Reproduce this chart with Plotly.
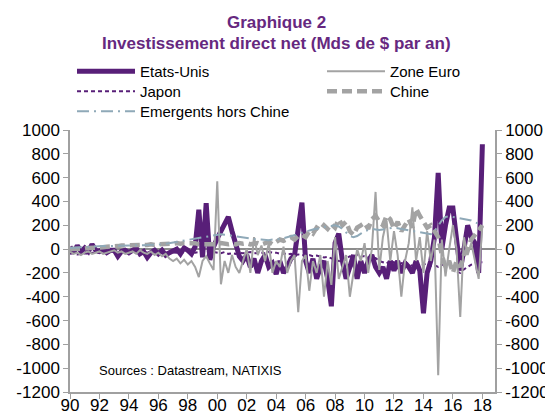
import plotly.graph_objs as go
import pandas as pd

# Quarterly data, 1990Q1 .. 2018Q1 (Mds de $ par an)
etats_unis = [20, -30, 30, -20, 10, -20, 40, -10, -20, 0, -30, -10, -10, -60, -20, -10,
              -30, -10, 10, -40, -20, -70, -30, -10, -40, -10, -50, -30, -20, 0, -40, 10,
              -10, -40, 20, 330, -70, 385, -90, 20, 90, 150, 200, 270, 150, 30, -60, -100,
              -50, -150, -80, -200, -100, -50, -150, -120, -210, -100, -200, -150, -80, -50, 150, 390,
              -100, -200, -80, -250, -150, -100, -250, -480, 50, 130, -100, -250, -150, -50, -250, -100,
              -200, -100, -50, -150, -200, -150, -250, -100, -180, -100, -200, -120, -150, -200, -100, -180,
              -540, -200, -100, 100, 640, 0, 200, 345, 345, 100, -180, 0, 200, 100, 50, -200,
              880]

zone_euro = [-20, -40, -30, -50, -30, -20, -40, -30, -20, -40, -30, -20, -10, -30, -20, -40,
             -30, -20, -40, -10, -30, -40, -20, -50, -30, -60, -40, -80, -100, -80, -120, -90,
             -130, -100, -150, -235, -100, -60, -120, -175, 570, -295, -100, -200, -50, -150, -200, -100,
             0, -200, 100, -50, 30, -100, 50, -200, -100, -150, 20, -200, -100, -50, -530, -100,
             -50, -350, -100, -200, -50, -400, -100, -300, 100, -250, -150, -50, -400, -200, 0, -100,
             50, -200, 0, 480, -175, 100, 240, -100, 150, -50, -400, -100, 50, 350, -100, 100,
             -200, 150, -100, 80, -1060, 80, -230, 0, 200, 0, -570, 100, -50, 50, -100, -250,
             200]

japon = [-40, -35, -45, -40, -35, -40, -30, -35, -30, -25, -30, -20, -20, -25, -20, -25,
         -25, -20, -25, -20, -25, -30, -20, -25, -20, -25, -30, -25, -25, -30, -20, -30,
         -25, -20, -30, -25, -20, -30, -15, -25, -30, -35, -25, -40, -35, -40, -30, -35,
         -30, -25, -35, -30, -30, -35, -25, -30, -30, -40, -35, -45, -40, -50, -45, -50,
         -55, -50, -60, -55, -60, -70, -65, -80, -90, -100, -110, -80, -60, -70, -50, -60,
         -60, -70, -80, -75, -100, -110, -120, -100, -110, -130, -120, -100, -130, -140, -120, -150,
         -130, -120, -140, -135, -150, -130, -140, -120, -160, -190, -200, -170, -150, -130, -120, -110,
         -110]

chine = [0, 0, 5, 5, 5, 10, 10, 10, 10, 15, 20, 20, 25, 25, 30, 30,
         30, 35, 30, 35, 35, 35, 40, 35, 40, 40, 40, 45, 45, 50, 45, 50,
         50, 45, 50, 40, 40, 45, 40, 45, 40, 50, 45, 40, 45, 40, 50, 45,
         50, 40, 45, 50, 40, 50, 60, 40, 60, 80, 70, 90, 100, 80, 110, 120,
         100, 150, 130, 180, 160, 200, 170, 210, 180, 250, 200, 230, 150, 120, 180, 200,
         220, 170, 250, 280, 230, 200, 280, 250, 170, 230, 150, 200, 250, 180, 340, 280,
         220, 180, 200, 150, 100, -50, -150, -100, -200, -100, -150, -50, 0, 80, 120, 150,
         200]

emergents = [10, 12, 15, 15, 18, 20, 20, 22, 22, 25, 25, 25, 25, 28, 25, 28,
             30, 30, 32, 30, 32, 35, 35, 35, 38, 40, 45, 50, 55, 60, 70, 75,
             80, 85, 90, 95, 100, 105, 110, 115, 120, 125, 120, 115, 110, 105, 100, 95,
             90, 85, 85, 80, 80, 75, 75, 80, 80, 85, 90, 100, 110, 120, 130, 140,
             150, 160, 165, 170, 180, 185, 190, 195, 200, 190, 170, 140, 110, 100, 110, 130,
             150, 160, 170, 165, 160, 165, 170, 175, 180, 175, 170, 165, 160, 155, 150, 145,
             140, 130, 125, 150, 200, 240, 270, 275, 270, 265, 260, 255, 250, 240, 225, 210,
             200]

dates = pd.date_range("1990-01-01", periods=len(etats_unis), freq="QS")

y_ticks = [1000, 800, 600, 400, 200, 0, -200, -400, -600, -800, -1000, -1200]
y_labels = [str(v) for v in y_ticks]  # plain hyphen, as in the original

PURPLE = "#581F78"
GREY = "#A3A3A3"
FONT = "Liberation Sans, Arial, sans-serif"

fig = go.Figure()
fig.add_trace(go.Scatter(x=dates, y=etats_unis, name="Etats-Unis", mode="lines", legend="legend",
                         line=dict(color=PURPLE, width=5)))
fig.add_trace(go.Scatter(x=dates, y=japon, name="Japon", mode="lines", legend="legend3",
                         line=dict(color=PURPLE, width=2, dash="4px,3px")))
fig.add_trace(go.Scatter(x=dates, y=zone_euro, name="Zone Euro", mode="lines", legend="legend2",
                         line=dict(color=GREY, width=2)))
fig.add_trace(go.Scatter(x=dates, y=chine, name="Chine", mode="lines", legend="legend4",
                         line=dict(color=GREY, width=4.5, dash="10px,5px")))
fig.add_trace(go.Scatter(x=dates, y=emergents, name="Emergents hors Chine", mode="lines", legend="legend5",
                         line=dict(color="#8FA9B8", width=2, dash="12px,5px,2px,5px")))
# invisible trace to carry the right-hand axis
fig.add_trace(go.Scatter(x=[dates[0]], y=[0], yaxis="y2", showlegend=False, hoverinfo="skip",
                         mode="lines", line=dict(width=0)))


# page has an 8px body margin: the figure is drawn 8px smaller so the plot area
# lands at x 70..495, y 130..392 of the window
def leg(px_left, px_top):
    return dict(x=(px_left - 70) / 425, y=(392 - px_top) / 262, xanchor="left", yanchor="top",
                itemwidth=58, font=dict(size=15), bgcolor="rgba(0,0,0,0)")


fig.update_layout(
    width=545, height=411,
    margin=dict(l=62, r=58, t=122, b=27, autoexpand=False),
    paper_bgcolor="white", plot_bgcolor="white",
    font=dict(family=FONT, size=17, color="black"),
    showlegend=True,
    legend=leg(72, 55),
    legend2=leg(322, 55),
    legend3=leg(72, 75),
    legend4=leg(322, 75),
    legend5=leg(72, 95),
    xaxis=dict(type="date", range=["1990-01-01", "2018-11-10"], dtick="M24", tick0="1990-01-01",
               tickformat="%y", showgrid=False, showline=True, linecolor="#A0A0A0", linewidth=1.5,
               ticks="outside", ticklen=5, tickcolor="#A0A0A0", zeroline=False, automargin=False,
               ticklabelstandoff=-8),
    yaxis=dict(range=[-1200, 1000], tickvals=y_ticks, ticktext=y_labels, showgrid=False, showline=True,
               linecolor="#A0A0A0", linewidth=1.5, ticks="outside", ticklen=5, tickcolor="#A0A0A0",
               zeroline=True, zerolinecolor="#8C8C8C", zerolinewidth=1.5, automargin=False),
    yaxis2=dict(range=[-1200, 1000], tickvals=y_ticks, ticktext=y_labels, overlaying="y", side="right",
                showgrid=False, showline=True, linecolor="#A0A0A0", linewidth=1.5,
                ticks="outside", ticklen=5, tickcolor="#A0A0A0", zeroline=False, automargin=False),
    annotations=[
        dict(text="<b>Graphique 2</b>", xref="paper", yref="paper", x=206 / 425, y=(392 - 22) / 262,
             xanchor="center", yanchor="middle", showarrow=False, font=dict(size=17, color="#66287F")),
        dict(text="<b>Investissement direct net (Mds de $ par an)</b>", xref="paper", yref="paper",
             x=206 / 425, y=(392 - 43) / 262, xanchor="center", yanchor="middle", showarrow=False,
             font=dict(size=17, color="#66287F")),
        dict(text="Sources : Datastream, NATIXIS", xref="paper", yref="paper",
             x=27 / 425, y=(392 - 370) / 262, xanchor="left", yanchor="middle",
             showarrow=False, font=dict(size=13)),
    ],
)

fig.write_html("out.html")
